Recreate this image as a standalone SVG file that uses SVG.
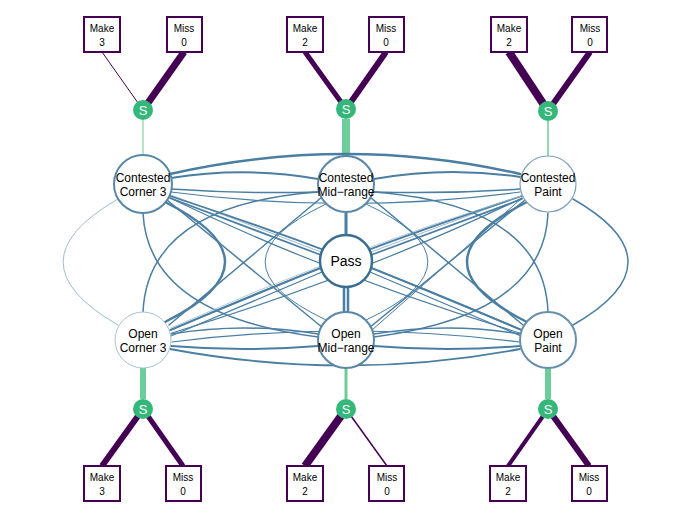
<svg xmlns="http://www.w3.org/2000/svg" width="692" height="519" viewBox="0 0 692 519">
<style>
text{font-family:"Liberation Sans",Arial,sans-serif;fill:#000;text-anchor:middle}
.box{fill:#fff;stroke:#440154;stroke-width:2}
.bl{font-size:10px}
.sv{fill:#35b779}
.st{fill:#fff;font-size:13px}
.nd{fill:#fff}
.nl{font-size:12px}
.e{fill:none;stroke:#4a7ea2;stroke-linecap:round}
.lt{stroke:#9dbbd0}
.pe{stroke:#440154;stroke-linecap:butt}
.ge{stroke:#6ccd9a;stroke-linecap:butt}
</style>
<rect width="692" height="519" fill="#fff"/>
<g id="connectors">
  <line class="pe" x1="143" y1="110" x2="102" y2="52" stroke-width="1"/>
  <line class="pe" x1="143" y1="110" x2="184" y2="52" stroke-width="7"/>
  <line class="pe" x1="346" y1="109" x2="305" y2="52" stroke-width="5"/>
  <line class="pe" x1="346" y1="109" x2="386" y2="52" stroke-width="6"/>
  <line class="pe" x1="548" y1="111" x2="509" y2="52" stroke-width="8"/>
  <line class="pe" x1="548" y1="111" x2="590" y2="52" stroke-width="6"/>
  <line class="pe" x1="143" y1="409" x2="102" y2="466" stroke-width="6"/>
  <line class="pe" x1="143" y1="409" x2="183" y2="466" stroke-width="5"/>
  <line class="pe" x1="346" y1="409" x2="305" y2="466" stroke-width="8"/>
  <line class="pe" x1="346" y1="409" x2="387" y2="466" stroke-width="1.5"/>
  <line class="pe" x1="548" y1="409" x2="508" y2="466" stroke-width="4"/>
  <line class="pe" x1="548" y1="409" x2="589" y2="466" stroke-width="6"/>
  <line class="ge" x1="143" y1="120" x2="143" y2="156" stroke-width="1"/>
  <line class="ge" x1="346" y1="119" x2="346" y2="156" stroke-width="8"/>
  <line class="ge" x1="548" y1="121" x2="548" y2="156" stroke-width="1.5"/>
  <line class="ge" x1="143" y1="368" x2="143" y2="399" stroke-width="6"/>
  <line class="ge" x1="346" y1="368" x2="346" y2="399" stroke-width="3"/>
  <line class="ge" x1="548" y1="368" x2="548" y2="399" stroke-width="6"/>
  <path class="e" d="M170,174 Q346,134 520,174" stroke-width="2.5"/>
  <path class="e" d="M171,178 Q245,166 318,179" stroke-width="2"/>
  <path class="e" d="M171,189 Q245,194 318,192" stroke-width="1.5"/>
  <path class="e" d="M374,179 Q447,166 520,177" stroke-width="2"/>
  <path class="e" d="M374,192 Q447,194 520,189" stroke-width="1.5"/>
  <path class="e" d="M171,192 Q346,215 520,192" stroke-width="1.2"/>
  <path class="e lt" d="M171,195 L321,252" stroke-width="1"/>
  <path class="e" d="M170,198 L321,255" stroke-width="1.8"/>
  <path class="e lt" d="M521,196 L371,252" stroke-width="1"/>
  <path class="e" d="M522,199 L371,255" stroke-width="1.8"/>
  <path class="e lt" d="M118,199 Q8,262 118,325" stroke-width="1"/>
  <path class="e" d="M573,199 Q683,262 573,325" stroke-width="1.5"/>
  <path class="e" d="M165,202 Q285,262 165,322" stroke-width="2.5"/>
  <path class="e" d="M527,202 Q407,262 527,322" stroke-width="2.5"/>
  <path class="e" d="M143,213 Q148,315 318,337" stroke-width="1.5"/>
  <path class="e" d="M143,312 Q148,205 318,192" stroke-width="1.5"/>
  <path class="e" d="M548,213 Q544,315 374,337" stroke-width="1.5"/>
  <path class="e" d="M548,312 Q544,205 374,192" stroke-width="1.5"/>
  <path class="e" d="M167,200 L323,328" stroke-width="1.5"/>
  <path class="e" d="M525,200 L369,328" stroke-width="1.5"/>
  <path class="e" d="M169,325 L322,197" stroke-width="1.5"/>
  <path class="e" d="M523,325 L370,197" stroke-width="1.5"/>
  <path class="e" d="M170,196 Q350,255 521,330" stroke-width="1.8"/>
  <path class="e" d="M170,198 Q330,275 520,333" stroke-width="1.2"/>
  <path class="e" d="M522,196 Q342,255 171,330" stroke-width="1.8"/>
  <path class="e" d="M522,198 Q362,275 172,333" stroke-width="1.2"/>
  <path class="e lt" d="M171,328 Q346,250 521,196" stroke-width="0.8"/>
  <path class="e" d="M326,204 Q204,262 326,320" stroke-width="1"/>
  <path class="e" d="M366,204 Q490,262 366,320" stroke-width="1"/>
  <path class="e" d="M346,213 L346,235" stroke-width="3"/>
  <path class="e" d="M344,287 L344,312" stroke-width="2.5"/>
  <path class="e" d="M348,287 L348,312" stroke-width="2.5"/>
  <path class="e" d="M320,268 L170,330" stroke-width="1.8"/>
  <path class="e" d="M372,268 L522,330" stroke-width="1.8"/>
  <path class="e" d="M322,272 L171,336" stroke-width="1.2"/>
  <path class="e" d="M370,272 L521,336" stroke-width="1.2"/>
  <path class="e" d="M171,334 Q245,322 318,334" stroke-width="1.5"/>
  <path class="e" d="M171,346 Q245,352 318,346" stroke-width="2"/>
  <path class="e" d="M374,334 Q447,322 520,334" stroke-width="1.5"/>
  <path class="e" d="M374,346 Q447,352 520,346" stroke-width="2"/>
  <path class="e" d="M170,349 Q346,382 520,349" stroke-width="1.8"/>
  <path class="e" d="M172,342 Q346,320 520,342" stroke-width="1.2"/>
  <path class="e" d="M372,330 L522,198" stroke-width="1"/>
</g>
<g id="make-cc3"><rect class="box" x="84" y="17" width="36" height="35"/><text class="bl" x="102" y="32">Make</text><text class="bl" x="102" y="46">3</text></g>
<g id="miss-cc3"><rect class="box" x="167" y="17" width="35" height="35"/><text class="bl" x="184" y="32">Miss</text><text class="bl" x="184" y="46">0</text></g>
<g id="make-cm"><rect class="box" x="287" y="17" width="36" height="35"/><text class="bl" x="305" y="32">Make</text><text class="bl" x="305" y="46">2</text></g>
<g id="miss-cm"><rect class="box" x="369" y="17" width="35" height="35"/><text class="bl" x="386" y="32">Miss</text><text class="bl" x="386" y="46">0</text></g>
<g id="make-cp"><rect class="box" x="491" y="17" width="36" height="35"/><text class="bl" x="509" y="32">Make</text><text class="bl" x="509" y="46">2</text></g>
<g id="miss-cp"><rect class="box" x="572" y="17" width="35" height="35"/><text class="bl" x="590" y="32">Miss</text><text class="bl" x="590" y="46">0</text></g>
<g id="make-oc3"><rect class="box" x="84" y="466" width="36" height="35"/><text class="bl" x="102" y="481">Make</text><text class="bl" x="102" y="495">3</text></g>
<g id="miss-oc3"><rect class="box" x="166" y="466" width="35" height="35"/><text class="bl" x="183" y="481">Miss</text><text class="bl" x="183" y="495">0</text></g>
<g id="make-om"><rect class="box" x="287" y="466" width="36" height="35"/><text class="bl" x="305" y="481">Make</text><text class="bl" x="305" y="495">2</text></g>
<g id="miss-om"><rect class="box" x="369" y="466" width="35" height="35"/><text class="bl" x="387" y="481">Miss</text><text class="bl" x="387" y="495">0</text></g>
<g id="make-op"><rect class="box" x="490" y="466" width="36" height="35"/><text class="bl" x="508" y="481">Make</text><text class="bl" x="508" y="495">2</text></g>
<g id="miss-op"><rect class="box" x="572" y="466" width="35" height="35"/><text class="bl" x="589" y="481">Miss</text><text class="bl" x="589" y="495">0</text></g>
<g id="s-cc3"><circle class="sv" cx="143" cy="110" r="10"/><text class="st" x="143" y="115">S</text></g>
<g id="s-cm"><circle class="sv" cx="346" cy="109" r="10"/><text class="st" x="346" y="114">S</text></g>
<g id="s-cp"><circle class="sv" cx="548" cy="111" r="10"/><text class="st" x="548" y="116">S</text></g>
<g id="s-oc3"><circle class="sv" cx="143" cy="409" r="10"/><text class="st" x="143" y="414">S</text></g>
<g id="s-om"><circle class="sv" cx="346" cy="409" r="10"/><text class="st" x="346" y="414">S</text></g>
<g id="s-op"><circle class="sv" cx="548" cy="409" r="10"/><text class="st" x="548" y="414">S</text></g>
<g id="cc3"><circle class="nd" cx="143" cy="184" r="29" stroke="#5b87a6" stroke-width="2"/><text class="nl" x="143" y="182">Contested</text><text class="nl" x="143" y="196">Corner 3</text></g>
<g id="cm"><circle class="nd" cx="346" cy="184" r="28" stroke="#5b87a6" stroke-width="2"/><text class="nl" x="346" y="182">Contested</text><text class="nl" x="346" y="196">Mid−range</text></g>
<g id="cp"><circle class="nd" cx="548" cy="184" r="28" stroke="#7da1ba" stroke-width="1.2"/><text class="nl" x="548" y="182">Contested</text><text class="nl" x="548" y="196">Paint</text></g>
<g id="pass"><circle class="nd" cx="346" cy="261" r="26" stroke="#3b6d8f" stroke-width="2.5"/><text x="346" y="266" font-size="14">Pass</text></g>
<g id="oc3"><circle class="nd" cx="143" cy="340" r="28" stroke="#a9c1d1" stroke-width="1"/><text class="nl" x="143" y="338">Open</text><text class="nl" x="143" y="352">Corner 3</text></g>
<g id="om"><circle class="nd" cx="346" cy="340" r="28" stroke="#5b87a6" stroke-width="2"/><text class="nl" x="346" y="338">Open</text><text class="nl" x="346" y="352">Mid−range</text></g>
<g id="op"><circle class="nd" cx="548" cy="340" r="28" stroke="#6890ad" stroke-width="2"/><text class="nl" x="548" y="338">Open</text><text class="nl" x="548" y="352">Paint</text></g>
</svg>
